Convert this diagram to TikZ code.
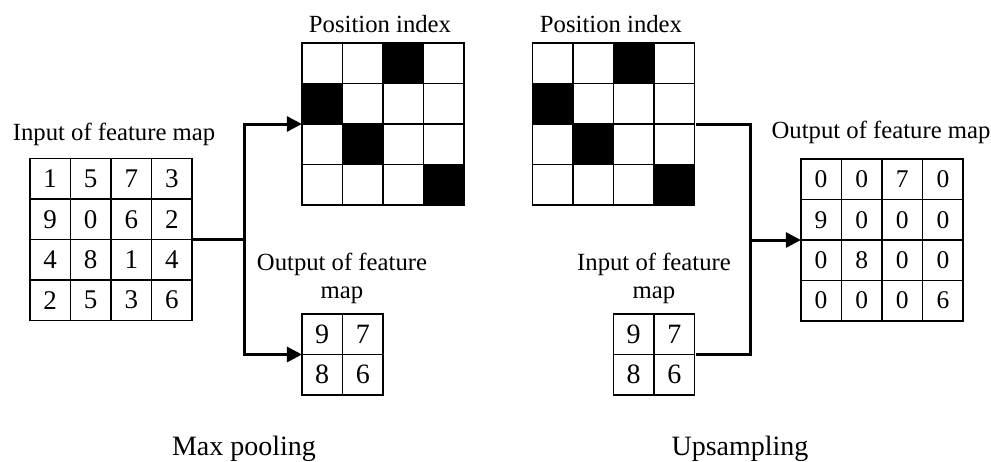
\documentclass[tikz,border=0pt]{standalone}
\usepackage{fontspec}
\setmainfont{Liberation Serif}
\usetikzlibrary{matrix,arrows.meta}

\tikzset{
  cell/.style={draw, line width=1.5pt, minimum width=40.6pt, minimum height=40.4pt,
    inner sep=0pt, anchor=center},
  grid/.style={matrix of nodes, ampersand replacement=\&, inner sep=0pt,
    column sep=-1.5pt, row sep=-1.5pt, nodes={cell}},
  num/.style={font=\fontsize{27}{27}\selectfont},
  numsmall/.style={font=\fontsize{28}{28}\selectfont},
  numout/.style={font=\fontsize{25.5}{25.5}\selectfont},
  dark/.style={fill=black},
  label/.style={font=\fontsize{24.7}{28}\selectfont, align=center, inner sep=0pt, anchor=base},
  title/.style={font=\fontsize{28}{30}\selectfont, inner sep=0pt, anchor=base},
  conn/.style={line width=3pt},
  arr/.style={conn, -{Triangle[length=15pt, width=15pt]}, shorten >=-1pt},
}

\begin{document}
\begin{tikzpicture}[x=1pt, y=-1pt]
\useasboundingbox (0,0) rectangle (991,461);

% max pooling: input map, position index and pooled output
\matrix[grid, nodes={num}] (inL) at (111,239.5) {
  1 \& 5 \& 7 \& 3 \\
  9 \& 0 \& 6 \& 2 \\
  4 \& 8 \& 1 \& 4 \\
  2 \& 5 \& 3 \& 6 \\
};
\matrix[grid] (posL) at (383,124) {
  {} \& {} \& |[dark]| {} \& {} \\
  |[dark]| {} \& {} \& {} \& {} \\
  {} \& |[dark]| {} \& {} \& {} \\
  {} \& {} \& {} \& |[dark]| {} \\
};
\matrix[grid, nodes={numsmall}] (outL) at (342.5,354.5) {
  9 \& 7 \\
  8 \& 6 \\
};

% upsampling: position index, pooled input and restored output
\matrix[grid] (posR) at (613.5,124) {
  {} \& {} \& |[dark]| {} \& {} \\
  |[dark]| {} \& {} \& {} \& {} \\
  {} \& |[dark]| {} \& {} \& {} \\
  {} \& {} \& {} \& |[dark]| {} \\
};
\matrix[grid, nodes={numsmall}] (inR) at (654,354.5) {
  9 \& 7 \\
  8 \& 6 \\
};
\matrix[grid, nodes={numout}] (outR) at (882,240) {
  0 \& 0 \& 7 \& 0 \\
  9 \& 0 \& 0 \& 0 \\
  0 \& 8 \& 0 \& 0 \\
  0 \& 0 \& 0 \& 6 \\
};

% labels (placed by the baseline of their last line)
\node[label] (tInL)   at (114,140) {Input of feature map};
\node[label] (tPosL)  at (380,32)  {Position index};
\node[label] (tOutL)  at (342,298) {Output of feature\\map};
\node[label] (tPosR)  at (611,32)  {Position index};
\node[label] (tInR)   at (654,298) {Input of feature\\map};
\node[label] (tOutR)  at (881,138) {Output of feature map};
\node[title] (tMax)   at (244,455) {Max pooling};
\node[title] (tUp)    at (740,455) {Upsampling};

% connectors
\coordinate (jL) at (244.5,239.5);
\coordinate (jR) at (750,240);
\draw[conn] (inL.east) -- (jL);
\draw[arr] (jL) |- (posL.west);
\draw[arr] (jL) |- (outL.west);
\draw[conn] (posR.east) -| (jR) |- (inR.east);
\draw[arr] (jR) -- (outR.west);
\end{tikzpicture}
\end{document}
